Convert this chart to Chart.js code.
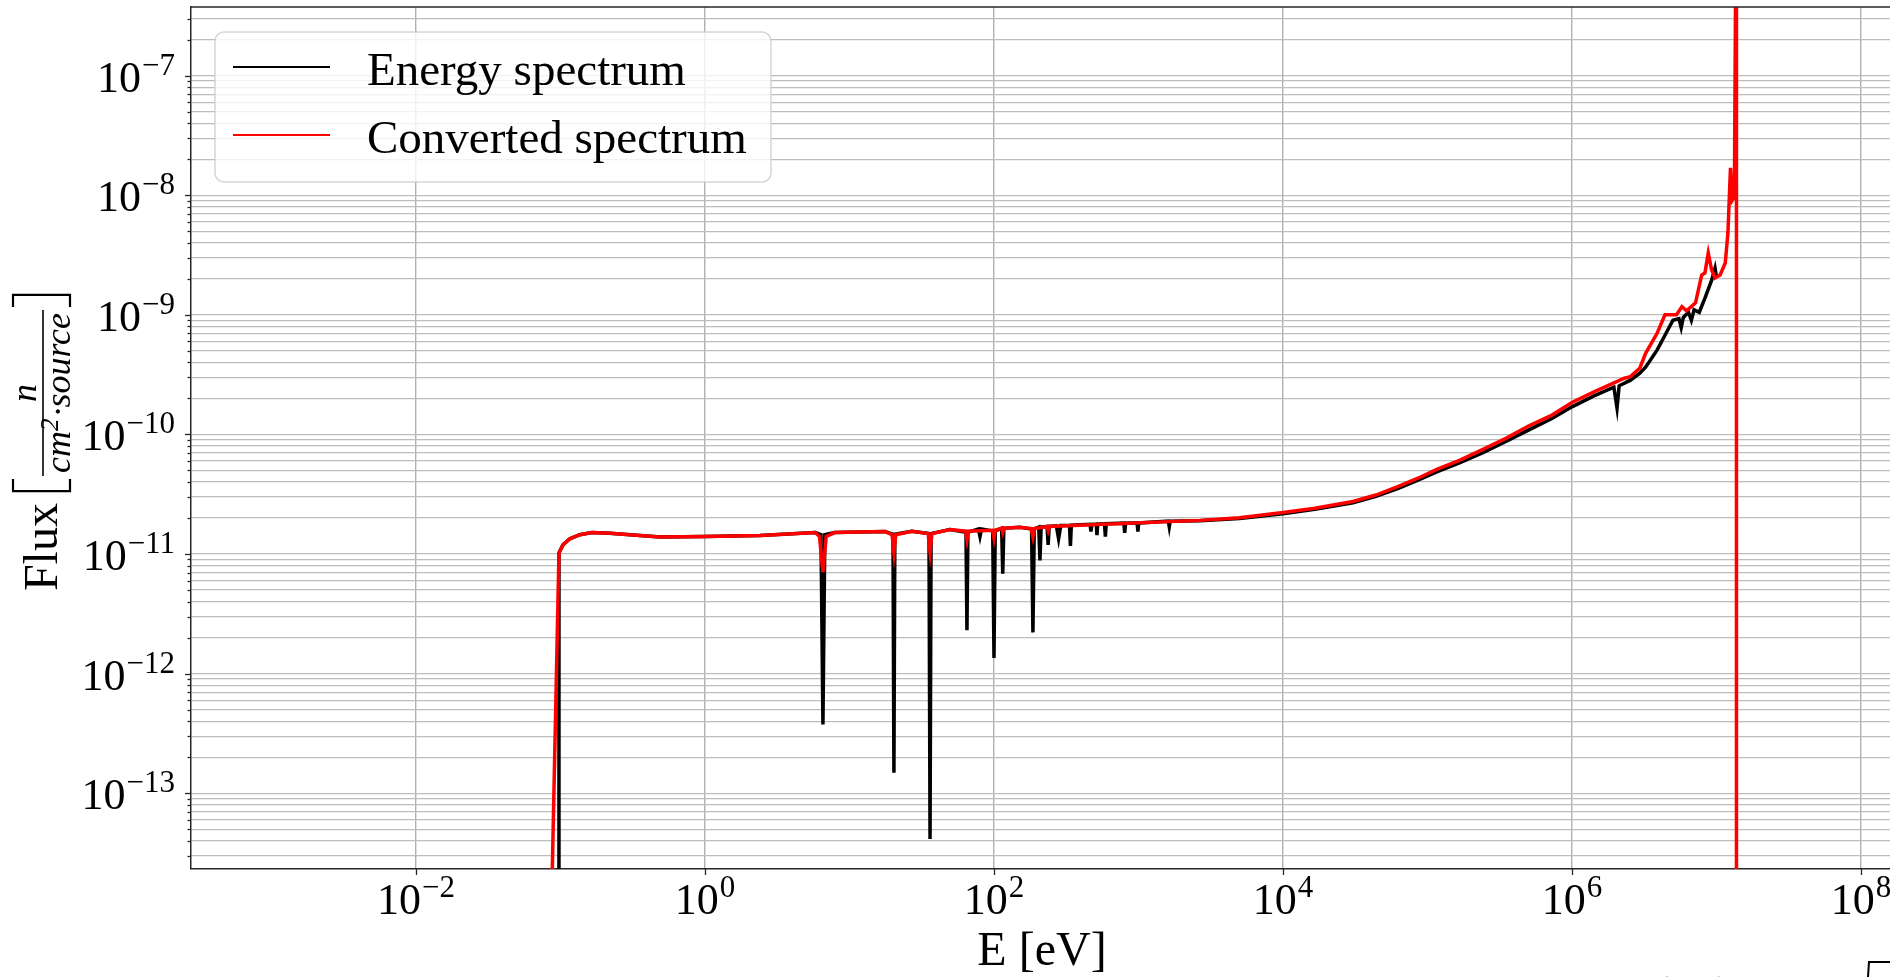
<!DOCTYPE html>
<html>
<head>
<meta charset="utf-8">
<title>Energy spectrum vs converted spectrum</title>
<script src="https://cdn.jsdelivr.net/npm/chart.js@4.4.1/dist/chart.umd.min.js"></script>
<style>
  html, body { margin: 0; padding: 0; background: #fff; overflow: hidden; }
  #wrap { position: relative; width: 1890px; height: 977px; }
</style>
</head>
<body>
<div id="wrap"><canvas id="spectrumChart"></canvas></div>
<script>
// Energy spectrum (black), E in eV, flux in n/(cm^2 source)
const energyE = [0.0976, 0.0976, 0.104, 0.116, 0.136, 0.165, 0.22, 0.355, 0.49, 1.0, 2.4, 5.8,
  6.35, 6.55, 6.75, 7.9, 17.6, 20.0, 20.3, 20.6, 27, 35.5, 36.1, 36.7, 49.6, 64, 65, 66,
  78, 80, 82, 98, 100, 102, 113, 115, 117, 151, 182, 186, 190, 204, 208, 212, 233, 237, 241,
  270, 280, 290, 333, 338, 343, 462, 469, 476, 510, 516, 522, 582, 590, 598, 792, 803, 814,
  978, 991, 1004, 1610, 1633, 1656, 2665, 5e3, 1e4, 1.66e4, 3.05e4, 4.4e4, 6.35e4, 8.59e4,
  1.16e5, 1.68e5, 2.42e5, 3.49e5, 5.04e5, 7.27e5, 1e6, 1.42e6, 1.95e6, 2.05e6, 2.12e6,
  2.54e6, 2.95e6, 3.24e6, 3.89e6, 4.6e6, 5.0e6, 5.5e6, 5.7e6, 5.9e6, 6.4e6, 6.7e6, 7.0e6,
  7.6e6, 8.32e6, 9.26e6, 9.77e6, 1.0e7];
const energyFlux = [1e-15, 1.02e-11, 1.19e-11, 1.34e-11, 1.45e-11, 1.51e-11, 1.49e-11, 1.43e-11, 1.39e-11, 1.40e-11, 1.43e-11, 1.51e-11,
  1.45e-11, 3.75e-13, 1.45e-11, 1.51e-11, 1.54e-11, 1.46e-11, 1.48e-13, 1.46e-11, 1.55e-11, 1.48e-11, 4.14e-14, 1.48e-11, 1.60e-11, 1.52e-11, 2.30e-12, 1.52e-11,
  1.62e-11, 1.40e-11, 1.62e-11, 1.56e-11, 1.35e-12, 1.56e-11, 1.64e-11, 6.83e-12, 1.64e-11, 1.67e-11, 1.62e-11, 2.21e-12, 1.62e-11, 1.68e-11, 8.83e-12, 1.68e-11, 1.70e-11, 1.19e-11, 1.70e-11,
  1.72e-11, 1.34e-11, 1.73e-11, 1.74e-11, 1.17e-11, 1.74e-11, 1.77e-11, 1.54e-11, 1.77e-11, 1.78e-11, 1.44e-11, 1.78e-11, 1.79e-11, 1.40e-11, 1.79e-11, 1.81e-11, 1.50e-11, 1.81e-11,
  1.82e-11, 1.54e-11, 1.82e-11, 1.88e-11, 1.69e-11, 1.88e-11, 1.90e-11, 1.98e-11, 2.17e-11, 2.37e-11, 2.68e-11, 3.03e-11, 3.55e-11, 4.15e-11,
  4.85e-11, 5.80e-11, 7.05e-11, 8.75e-11, 1.09e-10, 1.36e-10, 1.70e-10, 2.10e-10, 2.48e-10, 1.66e-10, 2.55e-10,
  2.84e-10, 3.25e-10, 3.67e-10, 5.09e-10, 7.46e-10, 9.0e-10, 9.3e-10, 7.8e-10, 9.5e-10, 1.05e-9, 9.0e-10, 1.1e-9,
  1.05e-9, 1.38e-9, 1.95e-9, 2.46e-9, 2.07e-9];

// Converted spectrum (red)
const convertedE = [0.0865, 0.0976, 0.104, 0.116, 0.136, 0.165, 0.22, 0.355, 0.49, 1.0, 2.4, 5.8,
  6.2, 6.55, 6.9, 7.9, 17.6, 19.7, 20.3, 20.9, 27, 35.0, 36.1, 37.2, 49.6, 63.5, 65, 66.5,
  98, 100, 102, 113, 115, 117, 151, 181, 186, 191, 233, 237, 241, 2665, 5e3, 1e4, 1.66e4,
  3.05e4, 4.4e4, 6.35e4, 8.59e4, 1.16e5, 1.68e5, 2.42e5, 3.49e5, 5.04e5, 7.27e5, 1e6, 1.42e6,
  1.92e6, 2.3e6, 2.54e6, 2.95e6, 3.24e6, 3.89e6, 4.4e6, 5.29e6, 5.77e6, 6.2e6, 7.16e6, 7.9e6,
  8.32e6, 8.77e6, 9.26e6, 9.77e6, 1.06e7, 1.15e7, 1.2e7, 1.25e7, 1.29e7, 1.33e7, 1.375e7, 1.375e7];
const convertedFlux = [1e-14, 1.02e-11, 1.19e-11, 1.34e-11, 1.45e-11, 1.51e-11, 1.49e-11, 1.43e-11, 1.39e-11, 1.40e-11, 1.43e-11, 1.51e-11,
  1.40e-11, 7.07e-12, 1.40e-11, 1.51e-11, 1.54e-11, 1.45e-11, 1.02e-11, 1.45e-11, 1.55e-11, 1.48e-11, 1.04e-11, 1.48e-11, 1.60e-11, 1.55e-11, 1.31e-11, 1.55e-11,
  1.58e-11, 1.36e-11, 1.58e-11, 1.64e-11, 1.52e-11, 1.64e-11, 1.67e-11, 1.63e-11, 1.39e-11, 1.63e-11, 1.70e-11, 1.58e-11, 1.70e-11, 1.91e-11, 2.01e-11, 2.22e-11, 2.41e-11,
  2.75e-11, 3.11e-11, 3.70e-11, 4.30e-11, 5.10e-11, 6.10e-11, 7.50e-11, 9.27e-11, 1.18e-10, 1.45e-10, 1.85e-10, 2.27e-10,
  2.67e-10, 2.95e-10, 3.04e-10, 3.59e-10, 4.79e-10, 7.04e-10, 1.0e-9, 1.0e-9, 1.17e-9, 1.08e-9, 1.26e-9, 2.15e-9,
  2.24e-9, 3.29e-9, 2.37e-9, 2.03e-9, 2.15e-9, 2.71e-9, 4.83e-9, 1.69e-8, 9.12e-9, 9.66e-9, 1e-5, 1e-15];

const seriesLabels = ['Energy spectrum', 'Converted spectrum'];
const seriesColors = ['#000000', '#ff0000'];

const xTickValues = [1e-2, 1e0, 1e2, 1e4, 1e6, 1e8];
const yTickValues = [1e-13, 1e-12, 1e-11, 1e-10, 1e-9, 1e-8, 1e-7];
const xLimits = [2.773e-4, 1.588e8];
const yLimits = [2.323e-14, 3.746e-7];

const serif = '"Liberation Serif", "DejaVu Serif", serif';

function toPoints(xs, ys) {
  return xs.map((v, i) => ({ x: v, y: ys[i] }));
}

function yTicksWithMinor() {
  const out = [];
  yTickValues.forEach(v => {
    out.push({ value: v, major: true });
    for (let m = 2; m <= 9; m++) out.push({ value: v * m, major: false });
  });
  for (let m = 3; m <= 9; m++) out.push({ value: 1e-14 * m, major: false });
  return out.filter(t => t.value >= yLimits[0] && t.value <= yLimits[1]);
}

function expText(v) {
  const e = Math.round(Math.log10(v));
  return e < 0 ? '\u2212' + Math.abs(e) : String(e);
}

function drawPower(ctx, v, x, baseline, align) {
  ctx.font = '44px ' + serif;
  const wBase = ctx.measureText('10').width;
  ctx.font = '31px ' + serif;
  const exp = expText(v);
  const wExp = ctx.measureText(exp).width;
  const total = wBase + wExp + 1;
  const start = align === 'right' ? x - total : x - total / 2;
  ctx.textAlign = 'left';
  ctx.textBaseline = 'alphabetic';
  ctx.font = '44px ' + serif;
  ctx.fillText('10', start, baseline);
  ctx.font = '31px ' + serif;
  ctx.fillText(exp, start + wBase + 1, baseline - 17);
}

const axisDecor = {
  id: 'axisDecor',
  afterDraw(chart) {
    const { ctx, chartArea: a, scales: { x, y } } = chart;
    ctx.save();
    ctx.fillStyle = '#000';
    ctx.strokeStyle = '#262626';
    ctx.lineWidth = 1.5;

    // top spine
    ctx.beginPath();
    ctx.moveTo(a.left, a.top);
    ctx.lineTo(a.right, a.top);
    ctx.stroke();

    // tick marks
    ctx.lineWidth = 1.3;
    x.ticks.forEach(t => {
      const px = Math.round(x.getPixelForValue(t.value)) + 0.5;
      ctx.beginPath(); ctx.moveTo(px, a.bottom); ctx.lineTo(px, a.bottom + 6); ctx.stroke();
    });
    y.ticks.forEach(t => {
      const py = Math.round(y.getPixelForValue(t.value)) + 0.5;
      const len = t.major ? 6 : 3.5;
      ctx.beginPath(); ctx.moveTo(a.left - len, py); ctx.lineTo(a.left, py); ctx.stroke();
    });

    // tick labels
    x.ticks.forEach(t => {
      drawPower(ctx, t.value, x.getPixelForValue(t.value), a.bottom + 45, 'center');
    });
    y.ticks.filter(t => t.major).forEach(t => {
      drawPower(ctx, t.value, 175, y.getPixelForValue(t.value) + 16, 'right');
    });

    // x title
    ctx.font = '48px ' + serif;
    ctx.textAlign = 'center';
    ctx.fillText('E [eV]', 1042, 965);

    // y title: Flux [ n / (cm^2 . source) ]
    ctx.save();
    const bigFont = '48px ' + serif;
    const itFont = 'italic 36px ' + serif;
    const supFont = 'italic 25px ' + serif;
    ctx.font = bigFont;
    const wFlux = ctx.measureText('Flux').width;
    ctx.font = itFont;
    const wCm = ctx.measureText('cm').width;
    const wDot = ctx.measureText('\u00b7').width;
    const wSrc = ctx.measureText('source').width;
    const wN = ctx.measureText('n').width;
    ctx.font = supFont;
    const wSup = ctx.measureText('2').width;
    const wDen = wCm + wSup + 2 + wDot + wSrc;
    const fracW = wDen + 6;
    const gap = 12, brW = 12;
    const total = wFlux + gap + brW + 3 + fracW + 3 + brW;
    const cy = (a.top + a.bottom) / 2 + 5;
    ctx.translate(57, cy + total / 2);
    ctx.rotate(-Math.PI / 2);
    ctx.textAlign = 'left';
    ctx.font = bigFont;
    ctx.fillText('Flux', 0, 0);
    let u = wFlux + gap;
    const bTop = -44, bBot = 13;
    ctx.strokeStyle = '#000';
    ctx.lineWidth = 2.2;
    ctx.beginPath();
    ctx.moveTo(u + brW, bTop); ctx.lineTo(u, bTop); ctx.lineTo(u, bBot); ctx.lineTo(u + brW, bBot);
    ctx.stroke();
    u += brW + 3;
    const barY = -14;
    ctx.lineWidth = 1.6;
    ctx.beginPath(); ctx.moveTo(u, barY); ctx.lineTo(u + fracW, barY); ctx.stroke();
    ctx.font = itFont;
    ctx.fillText('n', u + (fracW - wN) / 2, barY - 7);
    let d = u + 3;
    ctx.fillText('cm', d, barY + 27); d += wCm;
    ctx.font = supFont;
    ctx.fillText('2', d, barY + 15); d += wSup + 2;
    ctx.font = itFont;
    ctx.fillText('\u00b7', d, barY + 27); d += wDot;
    ctx.fillText('source', d, barY + 27);
    u += fracW + 3;
    ctx.lineWidth = 2.2;
    ctx.beginPath();
    ctx.moveTo(u, bTop); ctx.lineTo(u + brW, bTop); ctx.lineTo(u + brW, bBot); ctx.lineTo(u, bBot);
    ctx.stroke();
    ctx.restore();

    // legend
    const lx = a.left + 24, ly = a.top + 25, lw = 556, lh = 150, r = 9;
    ctx.beginPath();
    ctx.moveTo(lx + r, ly);
    ctx.arcTo(lx + lw, ly, lx + lw, ly + lh, r);
    ctx.arcTo(lx + lw, ly + lh, lx, ly + lh, r);
    ctx.arcTo(lx, ly + lh, lx, ly, r);
    ctx.arcTo(lx, ly, lx + lw, ly, r);
    ctx.closePath();
    ctx.fillStyle = 'rgba(255,255,255,0.8)';
    ctx.fill();
    ctx.strokeStyle = 'rgba(204,204,204,0.8)';
    ctx.lineWidth = 1.5;
    ctx.stroke();
    chart.data.datasets.forEach((ds, i) => {
      const rowY = ly + 35 + i * 68;
      ctx.strokeStyle = ds.borderColor;
      ctx.lineWidth = 2.2;
      ctx.beginPath(); ctx.moveTo(lx + 18, rowY); ctx.lineTo(lx + 115, rowY); ctx.stroke();
      ctx.fillStyle = '#000';
      ctx.font = '47px ' + serif;
      ctx.textAlign = 'left';
      ctx.fillText(ds.label, lx + 152, rowY + 18);
    });

    // cut-off equation number at the bottom edge of the page
    ctx.font = '48px ' + serif;
    ctx.fillStyle = '#000';
    ctx.fillText('(17)', 1653, 1010);
    ctx.strokeStyle = '#000';
    ctx.lineWidth = 2;
    ctx.beginPath(); ctx.moveTo(1868, 977); ctx.lineTo(1869, 962); ctx.lineTo(1890, 962); ctx.stroke();

    ctx.restore();
  }
};

new Chart(document.getElementById('spectrumChart'), {
  type: 'scatter',
  data: {
    datasets: [{
      label: seriesLabels[0],
      data: toPoints(energyE, energyFlux),
      borderColor: seriesColors[0],
      backgroundColor: seriesColors[0],
      showLine: true,
      borderWidth: 3.5,
      pointRadius: 0,
      tension: 0,
      order: 2
    }, {
      label: seriesLabels[1],
      data: toPoints(convertedE, convertedFlux),
      borderColor: seriesColors[1],
      backgroundColor: seriesColors[1],
      showLine: true,
      borderWidth: 3.5,
      pointRadius: 0,
      tension: 0,
      order: 1
    }]
  },
  options: {
    responsive: true,
    maintainAspectRatio: false,
    animation: false,
    layout: { padding: { left: 0, right: 0, top: 7, bottom: 0 } },
    plugins: { legend: { display: false }, tooltip: { enabled: false } },
    scales: {
      x: {
        type: 'logarithmic',
        min: xLimits[0],
        max: xLimits[1],
        afterBuildTicks: scale => { scale.ticks = xTickValues.map(v => ({ value: v, major: true })); },
        afterFit: scale => { scale.height = 108; },
        ticks: { display: false },
        grid: { color: '#b0b0b0', lineWidth: 1.4, drawTicks: false },
        border: { display: true, color: '#262626', width: 1.5 }
      },
      y: {
        type: 'logarithmic',
        min: yLimits[0],
        max: yLimits[1],
        afterBuildTicks: scale => { scale.ticks = yTicksWithMinor(); },
        afterFit: scale => { scale.width = 191; },
        ticks: { display: false },
        grid: { color: '#bdbdbd', lineWidth: 1.2, drawTicks: false },
        border: { display: true, color: '#262626', width: 1.5 }
      }
    }
  },
  plugins: [axisDecor]
});
</script>
</body>
</html>
